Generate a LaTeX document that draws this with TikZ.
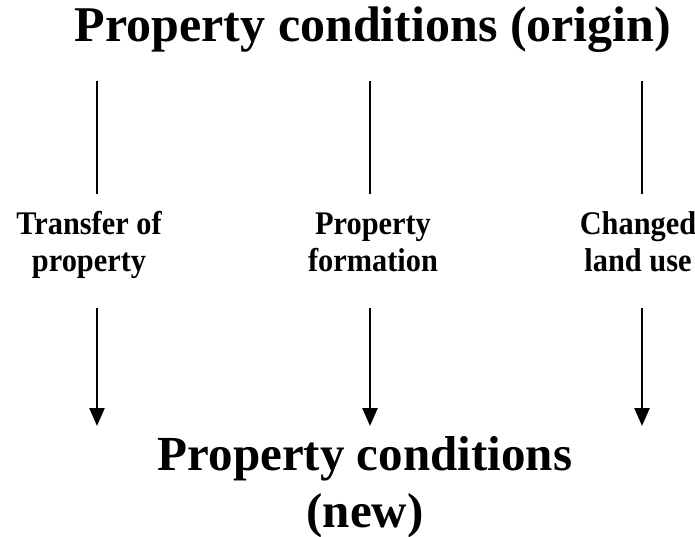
\documentclass[tikz,border=0pt]{standalone}
\usepackage{fontspec}
\setmainfont{Liberation Serif}
\newfontfamily\narrowserif[FakeStretch=0.92]{Liberation Serif}
\usetikzlibrary{arrows.meta}
\tikzset{
  bigtitle/.style={font=\fontsize{49}{57}\selectfont\bfseries, align=center, inner sep=0pt, anchor=base},
  steplabel/.style={font=\narrowserif\fontsize{33}{37}\selectfont\bfseries, align=center, inner sep=0pt, anchor=base},
  upline/.style={line width=1.5pt},
  downarrow/.style={line width=2.5pt, -{Triangle[length=18pt,width=15pt]}}
}
\begin{document}
\begin{tikzpicture}[x=1pt,y=-1pt]
\useasboundingbox (0,0) rectangle (695,537);

\node[bigtitle, font=\fontsize{50}{57}\selectfont\bfseries] (origin) at (373,42) {Property conditions (origin)};
\node[bigtitle] (new) at (365,527) {Property conditions\\(new)};

% base anchor sits on the second line
\node[steplabel] (transfer) at (89,271) {Transfer of\\property};
\node[steplabel] (formation) at (373,271) {Property\\formation};
\node[steplabel] (landuse) at (638,271) {Changed\\land use};

% lines from the origin
\coordinate (a1) at (97,81);  \coordinate (b1) at (97,194);
\coordinate (a2) at (370,81); \coordinate (b2) at (370,194);
\coordinate (a3) at (642,81); \coordinate (b3) at (642,194);
\draw[upline] (a1) -- (b1);
\draw[upline] (a2) -- (b2);
\draw[upline] (a3) -- (b3);

% arrows to the new conditions
\coordinate (c1) at (97,308);  \coordinate (d1) at (97,426);
\coordinate (c2) at (370,308); \coordinate (d2) at (370,426);
\coordinate (c3) at (642,308); \coordinate (d3) at (642,426);
\draw[downarrow] (c1) -- (d1);
\draw[downarrow] (c2) -- (d2);
\draw[downarrow] (c3) -- (d3);
\end{tikzpicture}
\end{document}
